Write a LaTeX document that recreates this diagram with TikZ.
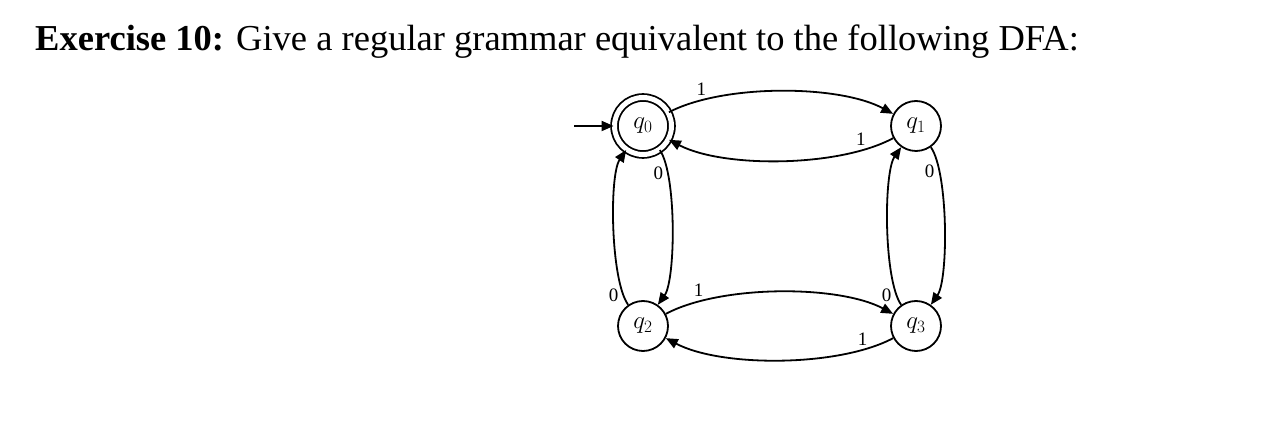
\documentclass[tikz,border=0pt]{standalone}
\usepackage{fontspec}
\setmainfont{Liberation Serif}
\usetikzlibrary{arrows.meta}

\begin{document}
\begin{tikzpicture}[x=1pt, y=-1pt, >={Triangle[length=12pt,width=10pt]},
    state/.style ={circle, draw, line width=1.8pt, minimum size=50pt, inner sep=0pt, font=\fontsize{25}{25}\selectfont},
    accepting/.style ={double, double distance=5pt, minimum size=57pt},
    trans/.style ={->, line width=1.8pt},
    sym/.style ={font=\fontsize{19}{19}\selectfont, inner sep=4pt}]
   \useasboundingbox (0,0) rectangle (1270,438);
   \node[anchor=base west, inner sep=0pt, font=\fontsize{36.5}{40}\selectfont] (title) at (35,51)
     {\textbf{Exercise 10:} Give a regular grammar equivalent to the following DFA:};

   \node[state, accepting] (q0) at (643,126) {$q_0$};
   \node[state] (q1) at (916,126) {$q_1$};
   \node[state] (q2) at (643,326) {$q_2$};
   \node[state] (q3) at (916,326) {$q_3$};
   \coordinate (start) at (574,126);

   \draw[trans] (start) to (q0);
   \draw[trans] (q0) to[bend left=28, looseness=0.7] node[sym, pos=0.17, anchor=south] (l01) {1} (q1);
   \draw[trans] (q1) to[bend left=28, looseness=0.7] node[sym, pos=0.17, anchor=south] (l10) {1} (q0);
   \draw[trans] (q2) to[bend left=35, looseness=0.5] node[sym, pos=0.1, anchor=east] (l20) {0} (q0);
   \draw[trans] (q0) to[bend left=35, looseness=0.5] node[sym, pos=0.2, anchor=east] (l02) {0} (q2);
   \draw[trans] (q1) to[bend left=35, looseness=0.5] node[sym, pos=0.2, anchor=east] (l13) {0} (q3);
   \draw[trans] (q3) to[bend left=35, looseness=0.5] node[sym, pos=0.1, anchor=east] (l31) {0} (q1);
   \draw[trans] (q2) to[bend left=28, looseness=0.7] node[sym, pos=0.17, anchor=south] (l23) {1} (q3);
   \draw[trans] (q3) to[bend left=28, looseness=0.7] node[sym, pos=0.16, anchor=south] (l32) {1} (q2);
 \end{tikzpicture}
\end{document}
